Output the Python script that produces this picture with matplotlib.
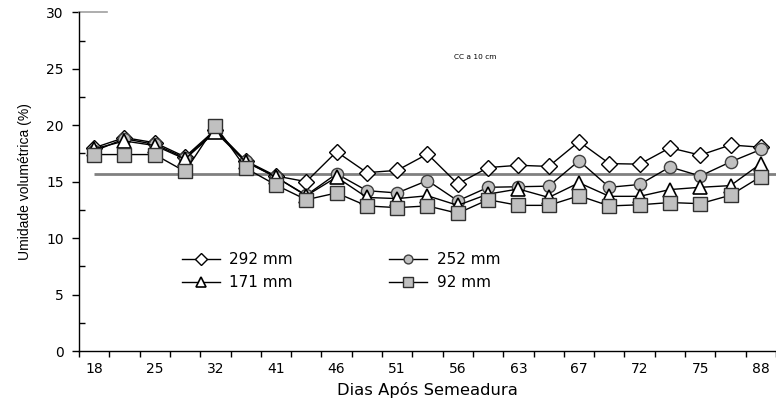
import matplotlib
matplotlib.use("Agg")
import matplotlib.pyplot as plt
import numpy as np

plt.rcParams["font.family"] = ["DejaVu Sans"]

# leituras de umidade por data (23 avaliações, rótulo a cada duas)
day_labels = ["18", "25", "32", "41", "46", "51", "56", "63", "67", "72", "75", "88"]
n_points = 23

u292 = [18.0, 18.9, 18.45, 17.2, 19.6, 16.85, 15.5, 15.0, 17.65, 15.8, 16.0, 17.45,
        14.8, 16.25, 16.45, 16.35, 18.55, 16.6, 16.55, 18.0, 17.35, 18.25, 18.05]
u252 = [17.7, 18.8, 18.3, 17.1, 19.5, 16.8, 15.4, 13.8, 15.7, 14.2, 14.0, 15.1,
        13.3, 14.5, 14.55, 14.6, 16.85, 14.5, 14.75, 16.3, 15.5, 16.75, 17.85]
u171 = [17.9, 18.6, 18.2, 17.0, 19.4, 16.75, 15.4, 13.75, 15.4, 13.6, 13.5, 13.75,
        12.9, 13.9, 14.35, 13.6, 14.9, 13.7, 13.7, 14.3, 14.5, 14.65, 16.6]
u92 = [17.4, 17.4, 17.4, 15.9, 19.95, 16.2, 14.7, 13.4, 14.0, 12.85, 12.7, 12.85,
       12.2, 13.4, 12.9, 12.9, 13.75, 12.85, 12.95, 13.15, 13.05, 13.8, 15.45]

cc_10cm = 15.7

x = np.arange(n_points)

fig = plt.figure(figsize=(7.76, 4.03), dpi=100)
ax = fig.add_axes([0.1018, 0.129, 0.8982, 0.8405])

gray = "#c0c0c0"
ax.plot([0, n_points], [cc_10cm, cc_10cm], color="#808080", lw=2, zorder=1,
        solid_capstyle="butt")

l1, = ax.plot(x, u292, color="black", lw=1, marker="D", ms=8.3, mfc="white",
              mec="black", mew=1, label="292 mm", zorder=3)
l2, = ax.plot(x, u252, color="black", lw=1, marker="o", ms=8.8, mfc=gray,
              mec="#404040", mew=1, label="252 mm", zorder=3)
l3, = ax.plot(x, u171, color="black", lw=1, marker="^", ms=10, mfc="white",
              mec="black", mew=1.2, label="171 mm", zorder=4)
l4, = ax.plot(x, u92, color="black", lw=1, marker="s", ms=9.5, mfc=gray,
              mec="#303030", mew=1, label="92 mm", zorder=4)

ax.set_xlim(-0.5, 22.39)
ax.set_ylim(0, 30)

ax.set_xticks(np.arange(0, n_points, 2))
ax.set_xticklabels(day_labels, fontsize=10)
ax.set_xticks(np.arange(-0.5, n_points, 1), minor=True)
ax.tick_params(axis="x", which="major", length=0, pad=8)
ax.tick_params(axis="x", which="minor", length=4, direction="out", width=1)

ax.set_yticks(np.arange(0, 31, 5))
ax.set_yticks(np.arange(2.5, 30, 5), minor=True)
ax.tick_params(axis="y", which="major", length=5, direction="out", width=1,
               labelsize=10, pad=6)
ax.tick_params(axis="y", which="minor", length=4, direction="in", width=1)

ax.spines["top"].set_visible(False)
ax.spines["right"].set_visible(False)
ax.spines["left"].set_linewidth(1)
ax.spines["bottom"].set_linewidth(1)
ax.axhline(30, xmin=0, xmax=0.04, color="#a0a0a0", lw=1.2, clip_on=False)

ax.set_xlabel("Dias Após Semeadura", fontsize=11.8, labelpad=4)
ax.set_ylabel("Umidade volumétrica (%)", fontsize=10, labelpad=10,
              family="Liberation Sans")

ax.text(12.57, 26.0, "CC a 10 cm", fontsize=5.3, ha="center", va="center")

leg = ax.legend(handles=[l1, l3, l2, l4], ncol=2, frameon=False, fontsize=11,
                loc="upper left", bbox_to_anchor=(0.128, 0.332),
                handlelength=2.5, columnspacing=6.3, markerscale=0.72,
                labelspacing=0.53, handletextpad=0.6)

fig.savefig("out.png", dpi=100)
